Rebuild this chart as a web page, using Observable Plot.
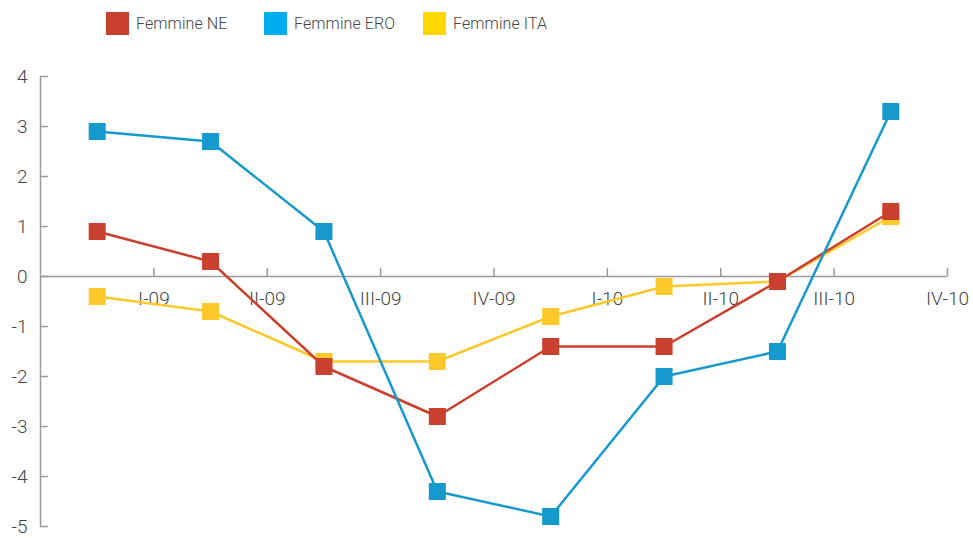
<!DOCTYPE html>
<html>
<head>
<meta charset="utf-8">
<script src="https://cdn.jsdelivr.net/npm/d3@7"></script>
<script src="https://cdn.jsdelivr.net/npm/@observablehq/plot@0.6"></script>
<style>
  body { margin: 0; background: #fff; font-family: Roboto, "Liberation Sans", sans-serif; }
  #legend { position: relative; height: 50px; }
  .item { position: absolute; top: 12px; display: flex; align-items: center; font-size: 16px; font-weight: 300; color: #444; letter-spacing: 0.1px; }
  .sw { width: 23px; height: 23px; margin-right: 7px; }
</style>
</head>
<body>
<div id="legend"></div>
<div id="chart"></div>
<script>
// Quarters (labels sit at the end of each quarter's band)
const quarters = ["I-09", "II-09", "III-09", "IV-09", "I-10", "II-10", "III-10", "IV-10"];

// Series values, one per quarter
const femmineNE  = [0.9, 0.3, -1.8, -2.8, -1.4, -1.4, -0.1, 1.3];
const femmineERO = [2.9, 2.7, 0.9, -4.3, -4.8, -2.0, -1.5, 3.3];
const femmineITA = [-0.4, -0.7, -1.7, -1.7, -0.8, -0.2, -0.1, 1.2];

const yTicks = [-5, -4, -3, -2, -1, 0, 1, 2, 3, 4];

const series = [
  {name: "Femmine NE",  values: femmineNE,  line: "#C9402F", key: "#C9402F"},
  {name: "Femmine ERO", values: femmineERO, line: "#1699CC", key: "#00AEEF"},
  {name: "Femmine ITA", values: femmineITA, line: "#FDC82A", key: "#FFD700"}
];

// Legend above the plot
const legendX = [106, 264, 423];
const legend = document.getElementById("legend");
series.forEach((s, i) => {
  const item = document.createElement("div");
  item.className = "item";
  item.style.left = legendX[i] + "px";
  item.innerHTML = `<span class="sw" style="background:${s.key}"></span><span>${s.name}</span>`;
  legend.appendChild(item);
});

// Data rows: each quarter drawn at the middle of its band
const rows = s => s.values.map((v, i) => ({q: quarters[i], x: i + 0.5, y: v}));
const tickRows = quarters.map((q, i) => ({q, x: i + 1}));

// Drawing order: ITA below, NE, then ERO on top
const drawOrder = [series[2], series[0], series[1]];
const seriesMarks = drawOrder.flatMap(s => [
  Plot.line(rows(s), {x: "x", y: "y", stroke: s.line, strokeWidth: 2.5}),
  Plot.dot(rows(s), {x: "x", y: "y", symbol: "square", r: 9.6, fill: s.line, stroke: "none"})
]);

const chart = Plot.plot({
  width: 973,
  height: 488,
  marginLeft: 40,
  marginRight: 26,
  marginTop: 26,
  marginBottom: 12,
  style: {fontFamily: "Roboto, 'Liberation Sans', sans-serif", fontWeight: 300, background: "#fff"},
  x: {domain: [0, 8], axis: null},
  y: {domain: [-5, 4], ticks: yTicks, axis: null},
  marks: [
    Plot.axisY({ticks: yTicks, label: null, tickSize: 0, tickPadding: 13, fontSize: 19, color: "#444", tickFormat: d => String(d)}),
    Plot.ruleX([0], {stroke: "#9a9a9a", strokeWidth: 1.5}),
    Plot.ruleY(yTicks, {x1: 0, x2: 0.07, stroke: "#9a9a9a", strokeWidth: 1.5}),
    Plot.ruleY([0], {stroke: "#9a9a9a", strokeWidth: 1.5}),
    Plot.ruleX(tickRows, {x: "x", y1: 0, y2: 0.16, stroke: "#9a9a9a", strokeWidth: 1.5}),
    Plot.text(tickRows, {x: "x", y: 0, text: "q", dy: 22, fontSize: 19, fill: "#444"}),
    ...seriesMarks
  ]
});
document.getElementById("chart").appendChild(chart);
</script>
</body>
</html>
